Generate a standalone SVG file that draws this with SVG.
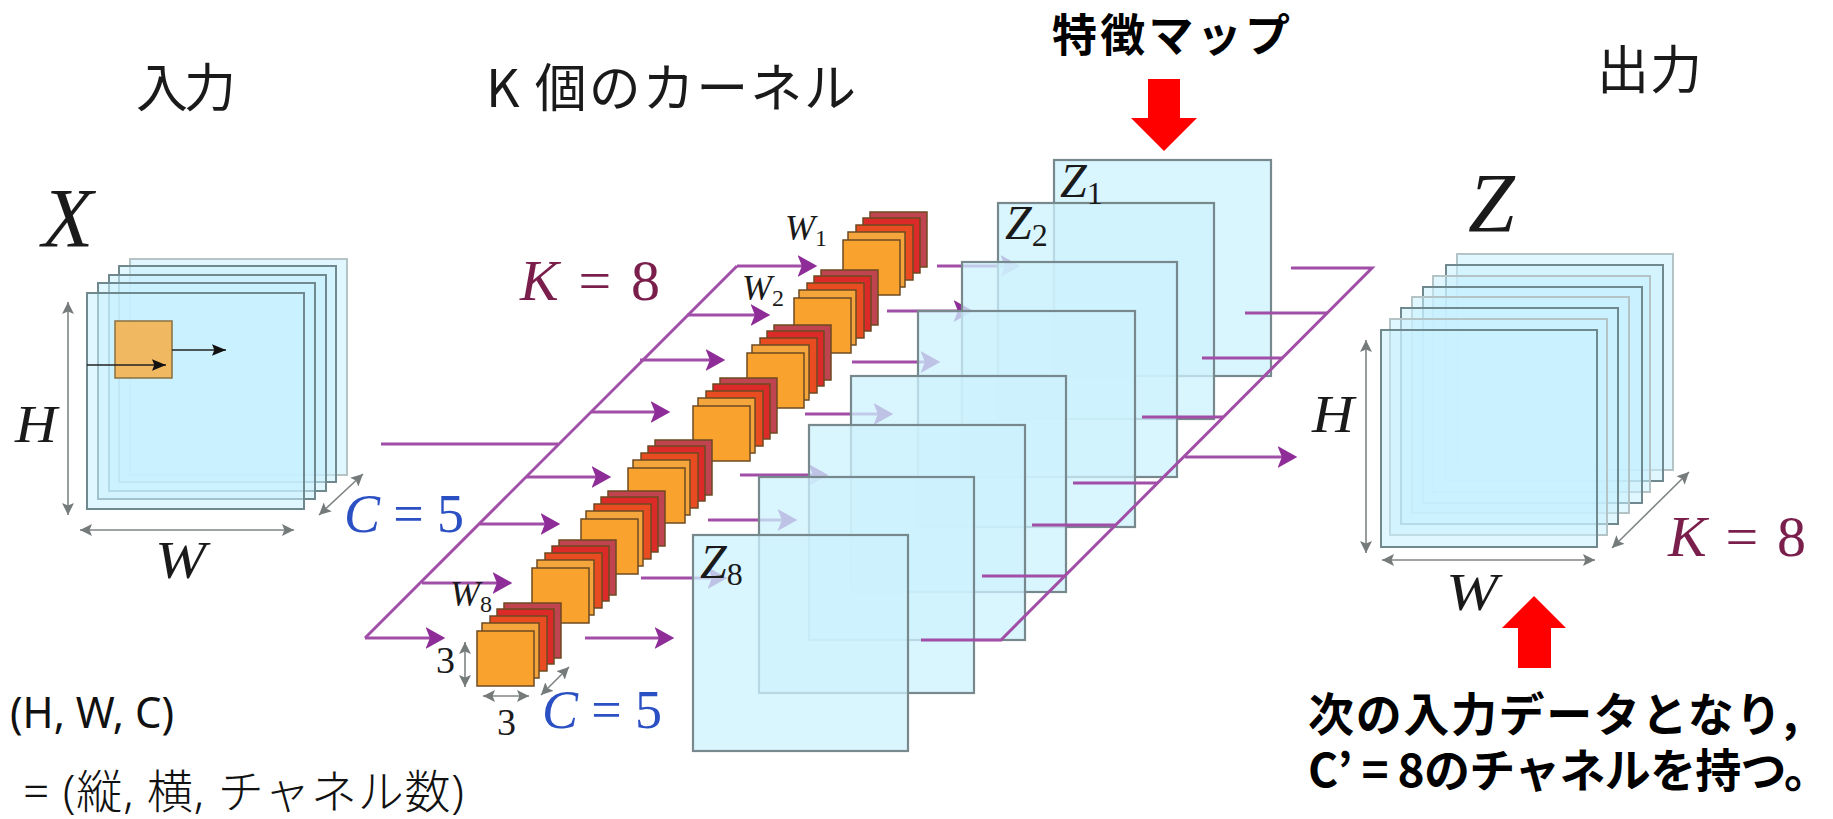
<svg xmlns="http://www.w3.org/2000/svg" width="1833" height="819" viewBox="0 0 1833 819">
<style>
text{font-family:"Liberation Serif",serif;fill:#1a1a1a}
.m{font-style:italic}
.n{font-style:normal}
.jp{font-family:"Noto Sans CJK JP","Noto Sans",sans-serif;font-weight:400;font-size:52px}
.b{font-family:"Noto Sans CJK JP","Noto Sans",sans-serif;font-weight:700;fill:#000}
.s{font-family:"Noto Sans","Noto Sans CJK JP",sans-serif;fill:#111}
.blue{fill:#2b50c4;font-size:54px}
.wine{fill:#7a1f4c;font-size:58px}
.pl{fill:#c9f1ff;fill-opacity:.55;stroke:#6f898f;stroke-width:2}
.pf{stroke:#b4c4c6}
.z{fill:#cdf2fe;fill-opacity:.76;stroke:#77898d;stroke-width:2.2}
.p{stroke:#a14ea8;stroke-width:3;fill:none}
.pa{marker-end:url(#pa)}
.g{stroke:#808585;stroke-width:1.6;fill:none;marker-end:url(#ga);marker-start:url(#ga)}
.k{stroke:#222;stroke-width:1.6;fill:none;marker-end:url(#ka)}
.c{stroke:#6e4a22;stroke-width:1.5}
</style>
<defs>
<marker id="pa" markerUnits="userSpaceOnUse" markerWidth="22" markerHeight="24" refX="15" refY="10" orient="auto" viewBox="0 0 20 20"><path d="M0 0 L18 10 L0 20 L4 10Z" fill="#8e2c98"/></marker>
<marker id="ga" markerUnits="userSpaceOnUse" markerWidth="12" markerHeight="12" refX="10" refY="5" orient="auto-start-reverse" viewBox="0 0 10 10"><path d="M0 0 L10 5 L0 10 L2 5Z" fill="#757a7a"/></marker>
<marker id="ka" markerUnits="userSpaceOnUse" markerWidth="14" markerHeight="12" refX="12" refY="5" orient="auto" viewBox="0 0 12 10"><path d="M0 0 L12 5 L0 10 L2 5Z" fill="#111"/></marker>
<g id="cube">
<rect class="c" x="27" y="-28" width="57" height="55" fill="#c0444f"/>
<rect class="c" x="20" y="-22" width="57" height="55" fill="#dc2a28"/>
<rect class="c" x="13" y="-15" width="57" height="55" fill="#ea4c22"/>
<rect class="c" x="5" y="-8" width="57" height="55" fill="#f4a63c"/>
<rect class="c" x="0" y="0" width="57" height="55" fill="#f9a22d"/>
</g>
</defs>

<text class="jp" x="136" y="107" textLength="100">入力</text>
<text class="jp" x="486" y="107" textLength="370">K 個のカーネル</text>
<text class="jp" x="1597" y="89" textLength="105">出力</text>
<text class="b" x="1052" y="52" font-size="45" textLength="238">特徴マップ</text>

<g id="input-X">
<rect class="pl pf" x="130" y="259" width="217" height="216"/>
<rect class="pl" x="119" y="266" width="217" height="216"/>
<rect class="pl" x="109" y="275" width="217" height="216"/>
<rect class="pl" x="98" y="283" width="217" height="216"/>
<rect class="pl" x="87" y="293" width="217" height="216"/>
<rect x="115" y="321" width="57" height="57" fill="#f0b860" stroke="#8a7040" stroke-width="1.5"/>
<path class="k" d="M87 365H166"/>
<path class="k" d="M172 350H226"/>
<path class="g" d="M68 302V515"/>
<path class="g" d="M80 530H294"/>
<path class="g" d="M319 515L363 474"/>
<text class="m" x="42" y="247" font-size="84">X</text>
<text class="m" x="15" y="442" font-size="52" textLength="42" lengthAdjust="spacingAndGlyphs">H</text>
<text class="m" x="155" y="578" font-size="52" textLength="51" lengthAdjust="spacingAndGlyphs">W</text>
<text class="m blue" x="344" y="532" textLength="120">C <tspan class="n">= 5</tspan></text>
</g>

<g id="connectors-in">
<path class="p" d="M381 444H558"/>
<path class="p" d="M737 266L365 638"/>
<path class="p pa" d="M737 266H814"/>
<path class="p pa" d="M687 315H767"/>
<path class="p pa" d="M640 360H722"/>
<path class="p pa" d="M591 412H667"/>
<path class="p pa" d="M526 477H608"/>
<path class="p pa" d="M480 524H557"/>
<path class="p pa" d="M422 583H509"/>
<path class="p pa" d="M365 638H442"/>
<path class="p pa" d="M937 266H1017"/>
<path class="p pa" d="M887 311H970"/>
<path class="p pa" d="M852 362H937"/>
<path class="p pa" d="M805 414H890"/>
<path class="p pa" d="M740 475H825"/>
<path class="p pa" d="M708 520H794"/>
<path class="p pa" d="M641 578H724"/>
<path class="p pa" d="M585 638H671"/>
</g>

<g id="kernels">
<use id="w1" href="#cube" x="843" y="240"/>
<use id="w2" href="#cube" x="794" y="298"/>
<use id="w3" href="#cube" x="747" y="353"/>
<use id="w4" href="#cube" x="693" y="406"/>
<use id="w5" href="#cube" x="628" y="468"/>
<use id="w6" href="#cube" x="581" y="519"/>
<use id="w7" href="#cube" x="532" y="568"/>
<use id="w8" href="#cube" x="477" y="631"/>
<path class="g" d="M465 642V687"/>
<path class="g" d="M483 696H529"/>
<path class="g" d="M541 695L569 667"/>
<text class="m" x="785" y="240" font-size="36">W<tspan class="n" font-size="24" dy="6">1</tspan></text>
<text class="m" x="742" y="300" font-size="36">W<tspan class="n" font-size="24" dy="6">2</tspan></text>
<text class="m" x="450" y="606" font-size="36">W<tspan class="n" font-size="24" dy="6">8</tspan></text>
<text class="n" x="436" y="673" font-size="38">3</text>
<text class="n" x="497" y="735" font-size="38">3</text>
<text class="m blue" x="542" y="728" textLength="120">C <tspan class="n">= 5</tspan></text>
<text class="m wine" x="520" y="300" textLength="140">K <tspan class="n">= 8</tspan></text>
</g>

<g id="feature-maps">
<rect class="z" x="1054" y="160" width="217" height="216"/>
<rect class="z" x="998" y="203" width="216" height="216"/>
<rect class="z" x="962" y="262" width="215" height="215"/>
<rect class="z" x="918" y="311" width="217" height="216"/>
<rect class="z" x="851" y="376" width="215" height="216"/>
<rect class="z" x="809" y="425" width="216" height="215"/>
<rect class="z" x="759" y="477" width="215" height="216"/>
<rect class="z" x="693" y="535" width="215" height="216"/>
<text class="m" x="1060" y="197" font-size="48">Z<tspan class="n" font-size="32" dy="7">1</tspan></text>
<text class="m" x="1005" y="239" font-size="48">Z<tspan class="n" font-size="32" dy="7">2</tspan></text>
<text class="m" x="700" y="578" font-size="48">Z<tspan class="n" font-size="32" dy="7">8</tspan></text>
</g>

<g id="connectors-out">
<path class="p" d="M1291 268H1372L1001 640H921"/>
<path class="p" d="M1245 313H1327"/>
<path class="p" d="M1202 358H1282"/>
<path class="p" d="M1142 417H1224"/>
<path class="p" d="M1073 483H1158"/>
<path class="p" d="M1032 525H1115"/>
<path class="p" d="M982 576H1065"/>
<path class="p pa" d="M1185 457H1294"/>
</g>

<g id="output-Z">
<rect class="pl pf" x="1457" y="254" width="216" height="216"/>
<rect class="pl" x="1446" y="265" width="217" height="216"/>
<rect class="pl pf" x="1433" y="276" width="217" height="216"/>
<rect class="pl" x="1423" y="287" width="219" height="216"/>
<rect class="pl pf" x="1412" y="297" width="217" height="216"/>
<rect class="pl" x="1401" y="308" width="217" height="216"/>
<rect class="pl pf" x="1390" y="319" width="217" height="216"/>
<rect class="pl" x="1381" y="330" width="216" height="217"/>
<path class="g" d="M1366 340V553"/>
<path class="g" d="M1382 560H1595"/>
<path class="g" d="M1612 548L1689 472"/>
<text class="m" x="1468" y="232" font-size="84">Z</text>
<text class="m" x="1312" y="432" font-size="52" textLength="42" lengthAdjust="spacingAndGlyphs">H</text>
<text class="m" x="1446" y="610" font-size="52" textLength="52" lengthAdjust="spacingAndGlyphs">W</text>
<text class="m wine" x="1668" y="556" textLength="138">K <tspan class="n">= 8</tspan></text>
</g>

<g id="callouts">
<path fill="#f00" d="M1148 79H1180V118H1197L1164 151L1131 118H1148Z"/>
<path fill="#f00" d="M1534 596L1566 628H1551V668H1518V628H1502Z"/>
<text class="b" x="1308" y="731" font-size="46" textLength="490">次の入力データとなり,</text>
<text class="b" x="1308" y="787" font-size="46" textLength="522">C’ = 8のチャネルを持つ。</text>
</g>

<g id="shape-note">
<text class="s" x="10" y="728" font-size="44" textLength="164" lengthAdjust="spacingAndGlyphs">(H, W, C)</text>
<text class="s" x="23" y="808" font-size="46" textLength="441" font-weight="300">= (縦, 横, チャネル数)</text>
</g>
</svg>
